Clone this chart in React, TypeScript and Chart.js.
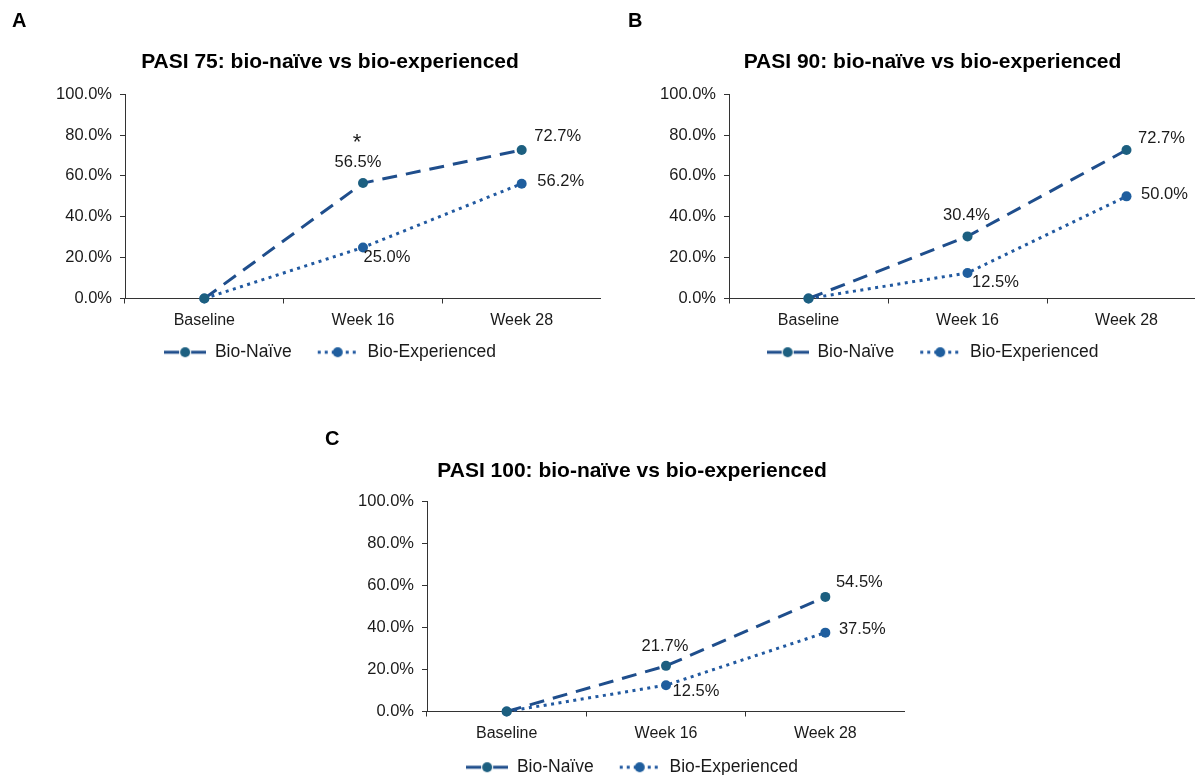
import React, { useEffect, useRef } from 'react';
import { Chart, registerables } from 'chart.js';

Chart.register(...registerables);

// ---------- data ----------
const categories = ['Baseline', 'Week 16', 'Week 28'];
const seriesNames = ['Bio-Naïve', 'Bio-Experienced'];

const pasi75Naive = [0, 56.5, 72.7];
const pasi75Experienced = [0, 25.0, 56.2];
const pasi75NaiveNotes = ['', '*', ''];

const pasi90Naive = [0, 30.4, 72.7];
const pasi90Experienced = [0, 12.5, 50.0];

const pasi100Naive = [0, 21.7, 54.5];
const pasi100Experienced = [0, 12.5, 37.5];

const yMin = 0;
const yMax = 100;
const yStep = 20;

const titles = [
  'PASI 75: bio-naïve vs bio-experienced',
  'PASI 90: bio-naïve vs bio-experienced',
  'PASI 100: bio-naïve vs bio-experienced',
];
const panelLetters = ['A', 'B', 'C'];

// ---------- style ----------
const FONT = '"Liberation Sans", Arial, Helvetica, sans-serif';
const TEXT = '#1a1a1a';
const AXIS = '#333333';
const NAIVE_LINE = '#1f4e8c';
const NAIVE_MARK = '#1c5f80';
const EXP_LINE = '#2159a0';
const EXP_MARK = '#1f5e9e';

function legendIcon(kind: string, lineColor: string, markColor: string) {
  const c = document.createElement('canvas');
  c.width = 42;
  c.height = 12;
  const ctx = c.getContext('2d') as CanvasRenderingContext2D;
  ctx.strokeStyle = lineColor;
  ctx.lineWidth = 3;
  ctx.beginPath();
  if (kind === 'dash') {
    ctx.moveTo(0, 6);
    ctx.lineTo(15, 6);
    ctx.moveTo(27, 6);
    ctx.lineTo(42, 6);
  } else {
    ctx.setLineDash([3, 4]);
    ctx.moveTo(1, 6);
    ctx.lineTo(42, 6);
  }
  ctx.stroke();
  ctx.setLineDash([]);
  ctx.fillStyle = markColor;
  ctx.beginPath();
  ctx.arc(21, 6, 5, 0, Math.PI * 2);
  ctx.fill();
  return c;
}

const pointLabelsPlugin = {
  id: 'pointLabels',
  afterDatasetsDraw(chart: any, _args: any, opts: any) {
    const ctx = chart.ctx;
    const offsets = opts.offsets || [];
    const notes = opts.notes || [];
    ctx.save();
    ctx.fillStyle = TEXT;
    ctx.textAlign = 'center';
    ctx.textBaseline = 'middle';
    chart.data.datasets.forEach((ds: any, di: number) => {
      const meta = chart.getDatasetMeta(di);
      meta.data.forEach((pt: any, i: number) => {
        if (i === 0) return;
        const off = (offsets[di] && offsets[di][i]) || [0, -16];
        ctx.font = '16.5px ' + FONT;
        ctx.fillText(Number(ds.data[i]).toFixed(1) + '%', pt.x + off[0], pt.y + off[1]);
        const n = notes[di] && notes[di][i];
        if (n) {
          ctx.font = '22px ' + FONT;
          ctx.fillText(n, pt.x + off[0] - 1, pt.y + off[1] - 19);
        }
      });
    });
    ctx.restore();
  },
};

const noLabelClip = (s: any) => {
  s._computeLabelArea = () => undefined;
};

type PanelProps = {
  left: number;
  top: number;
  width: number;
  height: number;
  padLeft: number;
  yWidth: number;
  xHeight: number;
  title: string;
  titleTop: number;
  titleBottom: number;
  naive: number[];
  experienced: number[];
  offsets: number[][][];
  notes?: string[][];
};

function Panel(p: PanelProps) {
  const ref = useRef<HTMLCanvasElement>(null);
  useEffect(() => {
    if (!ref.current) return;
    const naiveIcon = legendIcon('dash', NAIVE_LINE, NAIVE_MARK);
    const expIcon = legendIcon('dot', EXP_LINE, EXP_MARK);
    const chart = new Chart(ref.current, {
      type: 'line',
      data: {
        labels: categories,
        datasets: [
          {
            label: seriesNames[0],
            data: p.naive,
            borderColor: NAIVE_LINE,
            backgroundColor: NAIVE_MARK,
            pointBackgroundColor: NAIVE_MARK,
            pointBorderColor: NAIVE_MARK,
            borderWidth: 3,
            borderDash: [15, 9],
            pointRadius: 5,
            pointBorderWidth: 0,
            tension: 0,
            clip: false,
          } as any,
          {
            label: seriesNames[1],
            data: p.experienced,
            borderColor: EXP_LINE,
            backgroundColor: EXP_MARK,
            pointBackgroundColor: EXP_MARK,
            pointBorderColor: EXP_MARK,
            borderWidth: 3,
            borderDash: [3, 4.5],
            pointRadius: 5,
            pointBorderWidth: 0,
            tension: 0,
            clip: false,
          } as any,
        ],
      },
      options: {
        responsive: false,
        maintainAspectRatio: false,
        animation: false,
        layout: { autoPadding: false, padding: { left: p.padLeft, right: 0, top: 0, bottom: 0 } },
        scales: {
          x: {
            type: 'category',
            offset: true,
            grid: {
              display: true,
              offset: true,
              drawOnChartArea: false,
              drawTicks: true,
              tickLength: 5,
              color: AXIS,
            },
            border: { display: true, color: AXIS, width: 1 },
            ticks: { color: TEXT, font: { family: FONT, size: 16 }, padding: 7 },
            afterFit: (s: any) => {
              s.height = p.xHeight;
              noLabelClip(s);
            },
          },
          y: {
            min: yMin,
            max: yMax,
            grid: {
              display: true,
              drawOnChartArea: false,
              drawTicks: true,
              tickLength: 5,
              color: AXIS,
            },
            border: { display: true, color: AXIS, width: 1 },
            ticks: {
              stepSize: yStep,
              color: TEXT,
              font: { family: FONT, size: 16.5 },
              padding: 8,
              callback: (v: any) => Number(v).toFixed(1) + '%',
            },
            afterFit: (s: any) => {
              s.width = p.yWidth;
              noLabelClip(s);
            },
          },
        },
        plugins: {
          title: {
            display: true,
            text: p.title,
            color: '#000',
            font: { family: FONT, size: 21, weight: 'bold' },
            padding: { top: p.titleTop, bottom: p.titleBottom },
          },
          legend: {
            display: true,
            position: 'bottom',
            labels: {
              usePointStyle: true,
              pointStyleWidth: 42,
              color: TEXT,
              font: { family: FONT, size: 17.5 },
              padding: 25,
              generateLabels: (chart: any) => {
                const base = (Chart as any).defaults.plugins.legend.labels.generateLabels(chart);
                return base.map((l: any, i: number) => ({
                  ...l,
                  pointStyle: i === 0 ? naiveIcon : expIcon,
                }));
              },
            },
          },
          tooltip: { enabled: false },
          pointLabels: { offsets: p.offsets, notes: p.notes || [] },
        } as any,
      },
      plugins: [pointLabelsPlugin],
    } as any);
    return () => chart.destroy();
  }, []);
  return (
    <canvas
      ref={ref}
      width={p.width}
      height={p.height}
      style={{ position: 'absolute', left: p.left, top: p.top, width: p.width, height: p.height }}
    />
  );
}

const letterStyle: React.CSSProperties = {
  position: 'absolute',
  fontFamily: FONT,
  fontWeight: 'bold',
  fontSize: 20,
  color: '#000',
  lineHeight: '20px',
};

export default function App() {
  return (
    <div
      style={{
        position: 'fixed',
        left: 0,
        top: 0,
        width: 1195,
        height: 775,
        overflow: 'hidden',
        background: '#fff',
      }}
    >
      <Panel
        left={0}
        top={0}
        width={601}
        height={371}
        padLeft={59}
        yWidth={66}
        xHeight={20}
        title={titles[0]}
        titleTop={50}
        titleBottom={19}
        naive={pasi75Naive}
        experienced={pasi75Experienced}
        offsets={[
          [[0, 0], [-5, -21], [36, -14]],
          [[0, 0], [24, 10], [39, -2]],
        ]}
        notes={[pasi75NaiveNotes, ['', '', '']]}
      />
      <Panel
        left={600}
        top={0}
        width={606}
        height={371}
        padLeft={59}
        yWidth={70}
        xHeight={20}
        title={titles[1]}
        titleTop={50}
        titleBottom={19}
        naive={pasi90Naive}
        experienced={pasi90Experienced}
        offsets={[
          [[0, 0], [-1, -21], [35, -12]],
          [[0, 0], [28, 9], [38, -2]],
        ]}
      />
      <Panel
        left={330}
        top={410}
        width={575}
        height={376}
        padLeft={29}
        yWidth={68}
        xHeight={22}
        title={titles[2]}
        titleTop={49}
        titleBottom={17}
        naive={pasi100Naive}
        experienced={pasi100Experienced}
        offsets={[
          [[0, 0], [-1, -19], [34, -14]],
          [[0, 0], [30, 6], [37, -3]],
        ]}
      />
      <div style={{ ...letterStyle, left: 12, top: 10 }}>{panelLetters[0]}</div>
      <div style={{ ...letterStyle, left: 628, top: 10 }}>{panelLetters[1]}</div>
      <div style={{ ...letterStyle, left: 325, top: 428 }}>{panelLetters[2]}</div>
    </div>
  );
}
